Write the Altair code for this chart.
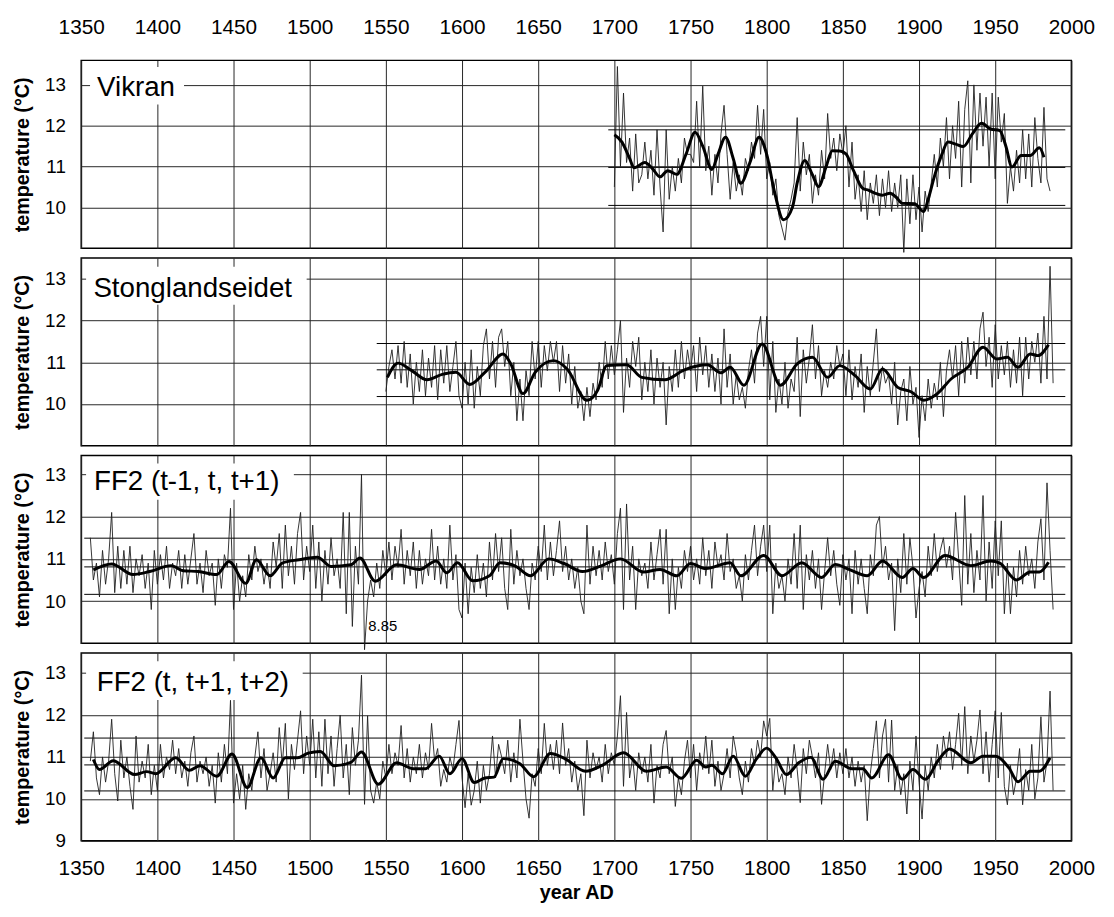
import altair as alt
import pandas as pd

FONT = "Liberation Sans"
X_DOMAIN = [1350, 2000]
X_TICKS = list(range(1350, 2001, 50))
STAT_END = 1996

# ---------------- Vikran ----------------
VIKRAN_START = 1700
VIKRAN_RAW = [
    10.5, 13.45, 11.0, 12.8, 11.1,
    11.7, 10.4, 11.8, 10.6, 10.8,
    11.6, 10.7, 11.4, 10.3, 11.9,
    10.5, 9.4, 11.9, 10.2, 11.0,
    10.4, 11.2, 10.6, 11.7, 11.3,
    11.3, 11.1, 12.6, 11.0, 12.97,
    10.9, 11.5, 10.3, 11.3, 10.6,
    11.8, 12.5, 11.3, 10.2, 11.1,
    10.4, 10.8, 10.3, 11.2, 10.9,
    11.6, 11.2, 12.5, 11.3, 12.4,
    10.7, 11.1, 10.3, 10.7, 9.8,
    9.5, 9.2, 9.9, 10.2, 10.6,
    12.2, 10.4, 11.6, 10.8, 11.3,
    10.1, 10.8, 10.3, 11.4, 10.7,
    12.3, 11.2, 11.7, 10.9, 11.8,
    11.3, 12.0, 10.5, 11.6, 10.2,
    10.8, 9.9, 10.9, 9.7, 10.6,
    10.1, 10.8, 9.8, 10.7, 10.0,
    10.9, 9.9, 10.6, 10.0, 10.8,
    8.9, 10.7, 9.6, 10.8, 9.7,
    10.5, 9.4, 10.4, 9.9, 10.6,
    11.3, 10.5, 11.7, 11.0, 12.2,
    10.7, 12.0, 11.2, 12.6, 10.5,
    12.4, 13.1, 10.6, 13.0, 11.4,
    12.8, 11.5, 12.7, 11.0, 12.8,
    10.7, 12.7, 11.6, 12.3, 10.1,
    11.0, 10.4, 11.4, 10.6, 11.9,
    10.7, 11.8, 10.5, 12.2, 11.2,
    10.6, 12.45, 10.7, 10.4,
]
VIKRAN_SMOOTH = [
    (1700, 11.78), (1705, 11.6), (1710, 11.2), (1713, 10.97), (1720, 11.1),
    (1725, 10.95), (1730, 10.75), (1735, 10.9), (1741, 10.81), (1747, 11.3),
    (1753, 11.84), (1758, 11.5), (1764, 10.93), (1768, 11.3), (1773, 11.72),
    (1778, 11.2), (1783, 10.59), (1789, 11.1), (1795, 11.72), (1800, 11.3),
    (1805, 10.4), (1811, 9.70), (1817, 10.02), (1820, 10.6), (1825, 11.15),
    (1830, 10.8), (1834, 10.51), (1839, 11.0), (1843, 11.39), (1848, 11.38),
    (1852, 11.31), (1857, 10.9), (1863, 10.47), (1867, 10.42), (1871, 10.35),
    (1876, 10.3), (1881, 10.35), (1885, 10.25), (1889, 10.10), (1897, 10.09),
    (1903, 9.9), (1906, 10.2), (1910, 10.75), (1915, 11.3), (1919, 11.6),
    (1924, 11.55), (1929, 11.49), (1935, 11.8), (1941, 12.06), (1947, 11.92),
    (1953, 11.88), (1957, 11.5), (1961, 10.99), (1967, 11.27), (1973, 11.27),
    (1979, 11.46), (1982, 11.23),
]
VIKRAN_STATS = [11.9, 10.98, 10.05]
VIKRAN_STAT_START = 1696

# ---------------- Stonglandseidet ----------------
STONG_START = 1550
STONG_RAW = [
    10.3, 10.9, 11.3, 10.6, 11.4,
    10.5, 11.5, 10.4, 11.2, 10.0,
    11.0, 10.3, 11.3, 10.2, 11.1,
    10.4, 11.4, 10.1, 11.3, 10.5,
    11.4, 10.3, 10.9, 11.5, 10.2,
    9.9, 11.0, 10.0, 11.3, 9.9,
    10.9, 10.2, 11.4, 11.8, 10.6,
    11.5, 10.4, 11.6, 11.8, 10.9,
    11.5, 10.2, 11.0, 9.6, 10.6,
    9.6, 10.8, 10.2, 11.5, 10.6,
    11.5, 10.4, 11.4, 10.8, 11.5,
    11.0, 11.5, 10.3, 11.4, 10.5,
    11.2, 10.0, 10.9, 9.9, 10.3,
    9.6, 10.4, 9.7, 10.5, 10.1,
    11.0, 10.4, 11.5, 10.6, 11.4,
    10.7, 11.3, 12.0, 9.8, 11.1,
    10.4, 11.5, 10.9, 11.6, 10.1,
    11.0, 10.3, 11.3, 10.0, 11.1,
    10.4, 11.0, 9.5, 10.9, 10.3,
    11.3, 10.4, 11.5, 10.6, 11.3,
    10.8, 11.4, 10.3, 11.6, 10.7,
    11.4, 10.4, 11.2, 10.3, 11.1,
    10.0, 11.8, 10.4, 11.2, 10.0,
    10.7, 10.1, 10.4, 9.9, 10.8,
    11.3, 10.5, 11.7, 12.1, 10.9,
    12.1, 10.1, 11.5, 9.8, 10.6,
    10.0, 11.0, 9.9, 10.6, 10.3,
    11.6, 9.7, 11.3, 10.5, 11.1,
    11.9, 10.6, 11.4, 10.2, 10.8,
    10.4, 11.0, 10.6, 11.4, 10.9,
    11.2, 10.2, 11.3, 10.1, 10.9,
    10.4, 11.2, 9.8, 10.9, 10.2,
    11.0, 11.8, 10.3, 10.9, 10.5,
    10.7, 10.0, 11.0, 9.5, 10.3,
    10.6, 9.6, 10.9, 10.0, 10.4,
    9.2, 10.2, 9.6, 10.6, 9.9,
    10.5, 10.1, 11.0, 9.7, 10.8,
    11.3, 10.6, 11.4, 10.2, 11.5,
    10.5, 11.6, 10.7, 11.5, 10.6,
    11.8, 12.2, 10.9, 11.6, 10.4,
    11.9, 10.6, 11.4, 10.7, 11.5,
    10.4, 11.3, 10.5, 11.6, 10.2,
    11.6, 10.6, 11.5, 11.0, 11.7,
    10.5, 12.1, 10.6, 13.3, 10.5,
]
STONG_SMOOTH = [
    (1551, 10.64), (1558, 10.98), (1567, 10.80), (1577, 10.58), (1587, 10.71),
    (1596, 10.76), (1605, 10.47), (1615, 10.76), (1627, 11.20), (1632, 10.96),
    (1640, 10.25), (1648, 10.76), (1660, 11.04), (1669, 10.84), (1682, 10.09),
    (1689, 10.33), (1695, 10.92), (1708, 10.94), (1718, 10.64), (1733, 10.58),
    (1746, 10.82), (1761, 10.94), (1770, 10.75), (1776, 10.88), (1785, 10.45),
    (1797, 11.44), (1809, 10.45), (1820, 10.96), (1830, 11.12), (1840, 10.64),
    (1848, 10.92), (1858, 10.68), (1868, 10.36), (1876, 10.84), (1886, 10.40),
    (1895, 10.29), (1903, 10.09), (1912, 10.25), (1921, 10.60), (1932, 10.88),
    (1942, 11.36), (1951, 11.08), (1958, 11.12), (1965, 10.88), (1973, 11.20),
    (1978, 11.16), (1985, 11.42),
]
STONG_STATS = [11.45, 10.82, 10.18]
STONG_STAT_START = 1544

# ---------------- FF2 (t-1, t, t+1) ----------------
FFA_START = 1356
FFA_RAW = [
    11.5, 10.5,
    10.9, 10.1, 11.2, 10.4, 11.0,
    12.1, 10.2, 11.3, 10.3, 11.2,
    10.4, 11.3, 10.2, 11.0, 10.6,
    11.1, 10.3, 10.9, 9.8, 11.2,
    10.4, 11.1, 10.5, 11.3, 10.3,
    10.9, 10.6, 11.2, 10.3, 11.1,
    10.4, 11.0, 11.6, 10.4, 10.9,
    10.2, 11.2, 10.6, 10.9, 9.9,
    11.0, 10.3, 11.1, 10.8, 12.2,
    9.8, 10.9, 10.0, 10.6, 10.1,
    11.1, 10.5, 11.3, 10.7, 11.0,
    10.4, 10.9, 10.3, 11.4, 10.8,
    11.6, 10.3, 11.8, 10.6, 11.3,
    10.4, 11.6, 12.1, 10.5, 11.3,
    10.7, 11.8, 10.3, 11.4, 10.0,
    11.2, 10.4, 11.5, 10.6, 11.0,
    10.3, 12.1, 9.7, 12.1, 9.4,
    11.3, 10.4, 13.0, 8.85, 10.0,
    10.5, 10.1, 10.9, 10.3, 11.2,
    10.6, 11.4, 10.5, 11.3, 10.8,
    11.7, 10.4, 11.2, 10.6, 11.4,
    10.3, 11.2, 10.4, 11.0, 10.6,
    11.7, 10.5, 11.3, 10.4, 11.0,
    10.3, 11.8, 10.5, 11.1, 9.8,
    9.6, 10.9, 9.7, 10.8, 10.2,
    11.1, 10.3, 10.9, 10.1, 11.4,
    10.5, 11.6, 10.7, 11.5, 10.3,
    9.8, 11.7, 10.4, 11.2, 10.6,
    11.0, 10.3, 9.8, 10.9, 10.5,
    11.3, 10.7, 11.8, 10.5, 11.4,
    10.6, 11.2, 11.9, 10.7, 11.3,
    10.5, 11.0, 10.3, 10.8, 10.0,
    9.7, 11.8, 10.4, 11.3, 10.6,
    11.2, 10.5, 11.4, 10.7, 11.1,
    10.4, 11.6, 12.2, 9.8, 12.3,
    10.5, 11.3, 9.8, 11.0, 10.6,
    10.9, 10.3, 11.4, 10.5, 11.1,
    11.7, 10.4, 11.7, 9.7, 11.0,
    9.8, 10.8, 10.3, 11.2, 10.7,
    11.3, 10.5, 11.0, 10.4, 11.5,
    10.6, 11.2, 10.3, 11.4, 10.8,
    11.1, 10.5, 11.6, 10.7, 11.0,
    10.3, 10.6, 10.0, 11.1, 10.5,
    11.2, 11.8, 10.6, 11.3, 11.8,
    10.7, 11.8, 9.7, 10.9, 10.3,
    10.6, 10.0, 11.0, 10.4, 11.6,
    10.3, 11.8, 9.8, 11.1, 10.5,
    11.2, 10.3, 11.0, 9.8, 10.7,
    11.5, 10.6, 11.2, 10.4, 9.9,
    11.1, 10.5, 11.0, 9.7, 11.2,
    10.4, 11.0, 10.3, 9.7, 11.1,
    10.6, 11.8, 12.0, 10.8, 11.3,
    10.5, 10.9, 9.3, 11.0, 10.2,
    11.6, 10.4, 11.5, 10.8, 9.6,
    10.3, 10.7, 10.1, 11.3, 10.6,
    11.6, 10.7, 11.2, 11.5, 10.8,
    11.3, 10.5, 12.1, 11.0, 9.9,
    12.5, 10.4, 11.6, 10.2, 11.2,
    10.5, 12.5, 10.0, 11.4, 10.3,
    11.9, 10.6, 11.9, 9.7, 10.9,
    9.7, 10.8, 10.1, 11.2, 10.4,
    11.3, 10.6, 11.0, 10.3, 11.4,
    11.95, 10.5, 12.8, 11.2, 9.8,
]
FFA_SMOOTH = [
    (1358, 10.74), (1370, 10.88), (1384, 10.63), (1395, 10.70), (1409, 10.84),
    (1417, 10.72), (1427, 10.70), (1439, 10.63), (1447, 10.94), (1458, 10.42),
    (1465, 10.98), (1474, 10.60), (1482, 10.90), (1493, 10.98), (1505, 11.04),
    (1514, 10.82), (1527, 10.86), (1533, 11.02), (1543, 10.47), (1557, 10.86),
    (1572, 10.75), (1583, 10.95), (1590, 10.67), (1597, 10.91), (1607, 10.48),
    (1618, 10.60), (1625, 10.91), (1635, 10.83), (1645, 10.60), (1657, 11.00),
    (1667, 10.89), (1679, 10.70), (1691, 10.83), (1704, 11.00), (1719, 10.69),
    (1730, 10.75), (1741, 10.60), (1750, 10.89), (1760, 10.77), (1776, 10.91),
    (1783, 10.60), (1798, 11.08), (1810, 10.60), (1823, 10.91), (1836, 10.56),
    (1845, 10.87), (1854, 10.75), (1866, 10.60), (1876, 10.95), (1889, 10.56),
    (1896, 10.77), (1903, 10.56), (1917, 11.08), (1934, 10.84), (1947, 10.95),
    (1953, 10.90), (1964, 10.50), (1973, 10.69), (1979, 10.69), (1985, 10.92),
]
FFA_STATS = [11.49, 10.81, 10.16]
FFA_STAT_START = 1352

# ---------------- FF2 (t, t+1, t+2) ----------------
FFB_START = 1356
FFB_RAW = [
    10.9, 11.6,
    10.5, 10.1, 11.0, 10.4, 10.9,
    11.9, 10.6, 9.95, 11.4, 10.5,
    11.0, 10.3, 9.75, 11.5, 10.4,
    10.9, 10.5, 11.3, 10.1, 10.8,
    10.2, 11.3, 10.5, 11.0, 10.7,
    11.4, 10.6, 11.2, 10.5, 10.9,
    10.3, 11.1, 11.5, 10.4, 10.9,
    10.6, 11.0, 10.3, 10.8, 9.9,
    11.1, 10.4, 11.3, 10.6, 12.35,
    9.9, 10.6, 10.0, 10.8, 9.75,
    10.6, 10.2, 11.0, 11.6, 10.5,
    11.2, 10.2, 10.6, 11.1, 10.4,
    11.7, 10.8, 11.8, 10.0, 11.3,
    10.7, 11.4, 12.1, 10.6, 11.5,
    10.8, 11.9, 10.5, 11.6, 10.3,
    11.9, 10.6, 11.5, 10.3, 11.2,
    12.0, 10.5, 11.3, 10.1, 11.7,
    10.8, 11.4, 12.95, 9.87, 11.98,
    10.2, 9.9, 10.4, 10.0, 10.9,
    10.5, 11.3, 10.6, 11.1, 10.8,
    11.75, 10.5, 11.2, 10.4, 11.0,
    10.6, 11.3, 10.5, 11.1, 10.7,
    11.8, 10.9, 11.2, 10.3, 10.7,
    10.4, 11.0, 10.7, 11.3, 11.87,
    10.5, 9.79, 10.6, 9.85, 10.2,
    10.9, 9.9, 10.8, 10.2, 10.6,
    11.5, 10.5, 11.3, 11.0, 10.6,
    11.4, 10.4, 11.1, 10.5, 11.9,
    10.9, 10.0, 9.54, 10.6, 10.3,
    11.2, 10.6, 11.8, 10.8, 11.3,
    10.7, 11.4, 10.6, 11.81, 10.8,
    11.2, 10.4, 10.9, 10.2, 10.6,
    9.6, 11.4, 10.5, 11.1, 10.7,
    11.0, 10.4, 11.3, 10.6, 11.1,
    10.8, 11.5, 12.46, 10.3, 12.06,
    10.5, 11.0, 10.2, 11.1, 10.6,
    11.0, 10.4, 11.3, 9.9, 10.8,
    10.5, 11.3, 11.63, 10.6, 11.0,
    9.82, 10.5, 10.1, 10.9, 11.4,
    10.5, 11.3, 10.2, 11.1, 10.7,
    11.5, 10.6, 11.4, 10.3, 10.9,
    10.2, 10.6, 11.2, 10.5, 11.5,
    11.1, 10.5, 10.1, 10.9, 10.4,
    11.2, 10.8, 11.4, 11.0, 11.86,
    11.5, 11.92, 10.2, 11.0, 10.4,
    10.6, 10.1, 11.0, 10.5, 11.3,
    10.7, 9.91, 11.2, 10.6, 11.4,
    11.0, 10.5, 11.1, 9.87, 10.6,
    11.3, 10.7, 11.2, 10.5, 11.1,
    10.6, 11.2, 10.5, 11.0, 10.3,
    10.9, 10.4, 10.8, 9.48, 10.6,
    11.2, 11.86, 10.5, 11.5, 11.9,
    10.4, 11.88, 10.2, 10.8, 10.1,
    10.6, 9.64, 10.9, 10.2, 11.5,
    10.4, 9.52, 10.8, 10.2, 11.0,
    10.5, 11.3, 10.7, 11.5, 11.0,
    11.6, 10.7, 11.3, 12.04, 10.8,
    12.2, 10.6, 11.5, 10.9, 11.4,
    12.12, 10.6, 11.6, 10.4, 11.3,
    12.1, 10.5, 12.06, 10.3, 9.86,
    10.8, 10.1, 10.5, 11.2, 9.86,
    10.7, 10.2, 11.3, 10.0, 10.5,
    11.96, 10.4, 10.9, 12.57, 10.2,
]
FFB_SMOOTH = [
    (1358, 10.94), (1362, 10.70), (1371, 10.91), (1385, 10.58), (1393, 10.65),
    (1399, 10.60), (1412, 10.98), (1421, 10.68), (1428, 10.79), (1439, 10.54),
    (1449, 11.07), (1459, 10.27), (1468, 10.98), (1476, 10.50), (1484, 10.98),
    (1492, 10.98), (1499, 11.09), (1507, 11.13), (1516, 10.79), (1527, 10.87),
    (1534, 11.12), (1545, 10.35), (1557, 10.86), (1568, 10.72), (1576, 10.72),
    (1585, 11.02), (1592, 10.60), (1600, 10.96), (1608, 10.39), (1615, 10.50),
    (1621, 10.52), (1627, 10.96), (1638, 10.84), (1647, 10.53), (1658, 11.08),
    (1668, 10.95), (1681, 10.66), (1692, 10.80), (1706, 11.10), (1721, 10.66),
    (1734, 10.76), (1744, 10.49), (1754, 10.92), (1760, 10.76), (1764, 10.80),
    (1771, 10.60), (1778, 11.02), (1786, 10.54), (1793, 10.94), (1800, 11.21),
    (1806, 10.98), (1813, 10.58), (1821, 10.86), (1829, 10.99), (1837, 10.47),
    (1845, 10.90), (1856, 10.72), (1863, 10.72), (1869, 10.50), (1880, 11.05),
    (1889, 10.47), (1896, 10.70), (1904, 10.47), (1913, 10.94), (1920, 11.19),
    (1934, 10.86), (1942, 11.02), (1950, 11.02), (1959, 10.74), (1965, 10.41),
    (1973, 10.66), (1979, 10.66), (1986, 10.98),
]
FFB_STATS = [11.45, 10.81, 10.19]
FFB_STAT_START = 1352

# labels: (text, text_x, text_y, box_x1, box_x2, box_y1, box_y2)
LABELS = [
    ("Vikran", 1360.4, 12.72, 1355.8, 1417.5, 12.52, 13.44),
    ("Stonglandseidet", 1358.0, 12.57, 1353.2, 1498.0, 12.38, 13.29),
    ("FF2 (t-1, t, t+1)", 1358.4, 12.64, 1353.2, 1489.6, 12.40, 13.26),
    ("FF2 (t, t+1, t+2)", 1360.2, 12.58, 1353.2, 1495.4, 12.36, 13.28),
]
Y_DOMAINS = [[9, 13.6], [9, 13.5], [9, 13.45], [9, 13.48]]
Y_TICKS = [[10, 11, 12, 13], [10, 11, 12, 13], [10, 11, 12, 13], [9, 10, 11, 12, 13]]
NOTE = ("8.85", 1538.5, 9.42)

PANEL_W = 1001
PANEL_H = 190


def make_panel(idx, raw_start, raw, smooth, stats, stat_start, position):
    xs = alt.Scale(domain=X_DOMAIN, nice=False, zero=False)
    ys = alt.Scale(domain=Y_DOMAINS[idx], nice=False, zero=False)
    common_x = dict(values=X_TICKS, grid=True, ticks=False, domain=False,
                    labelOverlap=False, labelFlush=False, format="d")
    if position == "top":
        xaxis = alt.Axis(orient="top", labelFontSize=21, labelPadding=23, title=None, **common_x)
    elif position == "bottom":
        xaxis = alt.Axis(orient="bottom", labelFontSize=21, labelPadding=17,
                         title="year AD", titleFontSize=20, titleFontWeight="bold",
                         titlePadding=4, **common_x)
    else:
        xaxis = alt.Axis(labels=False, title=None, **common_x)
    yaxis = alt.Axis(values=Y_TICKS[idx], grid=True, ticks=False, domain=False,
                     labelFontSize=19, labelPadding=16, minExtent=37, maxExtent=37,
                     title="temperature (°C)", titleFontSize=20, titleFontWeight="bold",
                     titlePadding=12, format="d")

    def X(field):
        return alt.X(field, type="quantitative", scale=xs, axis=xaxis)

    def Y(field):
        return alt.Y(field, type="quantitative", scale=ys, axis=yaxis)

    text, tx, ty, bx1, bx2, by1, by2 = LABELS[idx]
    box_df = pd.DataFrame({"x1": [bx1], "x2": [bx2], "y1": [by1], "y2": [by2]})
    box = alt.Chart(box_df).mark_rect(fill="white").encode(
        x=X("x1"), x2="x2:Q", y=Y("y1"), y2="y2:Q",
    )
    lab_df = pd.DataFrame({"x1": [tx], "y1": [ty], "t": [text]})
    lab = alt.Chart(lab_df).mark_text(align="left", baseline="alphabetic", fontSize=28,
                                      font=FONT, color="black").encode(
        x=X("x1"), y=Y("y1"), text="t:N",
    )
    stat_df = pd.DataFrame({"x1": [stat_start] * len(stats), "x2": [STAT_END] * len(stats), "y1": stats})
    rules = alt.Chart(stat_df).mark_rule(color="black", strokeWidth=1).encode(
        x=X("x1"), x2="x2:Q", y=Y("y1"),
    )
    raw_df = pd.DataFrame({"x1": [raw_start + 2 * i for i in range(len(raw))], "y1": raw})
    raw_line = alt.Chart(raw_df).mark_line(color="#1e1e1e", strokeWidth=0.9).encode(
        x=X("x1"), y=Y("y1"),
    )
    sm_df = pd.DataFrame(smooth, columns=["x1", "y1"])
    sm_line = alt.Chart(sm_df).mark_line(color="black", strokeWidth=3, interpolate="monotone").encode(
        x=X("x1"), y=Y("y1"),
    )
    layers = [box, lab, rules, raw_line, sm_line]
    if idx == 2:
        note_df = pd.DataFrame({"x1": [NOTE[1]], "y1": [NOTE[2]], "t": [NOTE[0]]})
        layers.append(alt.Chart(note_df).mark_text(align="left", baseline="middle", fontSize=15,
                                                   font=FONT, color="black").encode(
            x=X("x1"), y=Y("y1"), text="t:N",
        ))
    return alt.layer(*layers).properties(width=PANEL_W, height=PANEL_H)


panels = [
    make_panel(0, VIKRAN_START, VIKRAN_RAW, VIKRAN_SMOOTH, VIKRAN_STATS, VIKRAN_STAT_START, "top"),
    make_panel(1, STONG_START, STONG_RAW, STONG_SMOOTH, STONG_STATS, STONG_STAT_START, "none"),
    make_panel(2, FFA_START, FFA_RAW, FFA_SMOOTH, FFA_STATS, FFA_STAT_START, "none"),
    make_panel(3, FFB_START, FFB_RAW, FFB_SMOOTH, FFB_STATS, FFB_STAT_START, "bottom"),
]

chart = alt.vconcat(*panels, spacing=9.67, bounds="flush").properties(
    padding={"left": 4, "top": 3, "right": 10, "bottom": 5},
    background="white",
).configure(font=FONT).configure_view(
    stroke="black", strokeWidth=1.5
).configure_axis(
    gridColor="#262626", gridWidth=1, gridOpacity=1,
    labelColor="black", titleColor="black", labelFont=FONT, titleFont=FONT,
)

chart.save("out.html", embed_options={"renderer": "svg", "actions": False})
